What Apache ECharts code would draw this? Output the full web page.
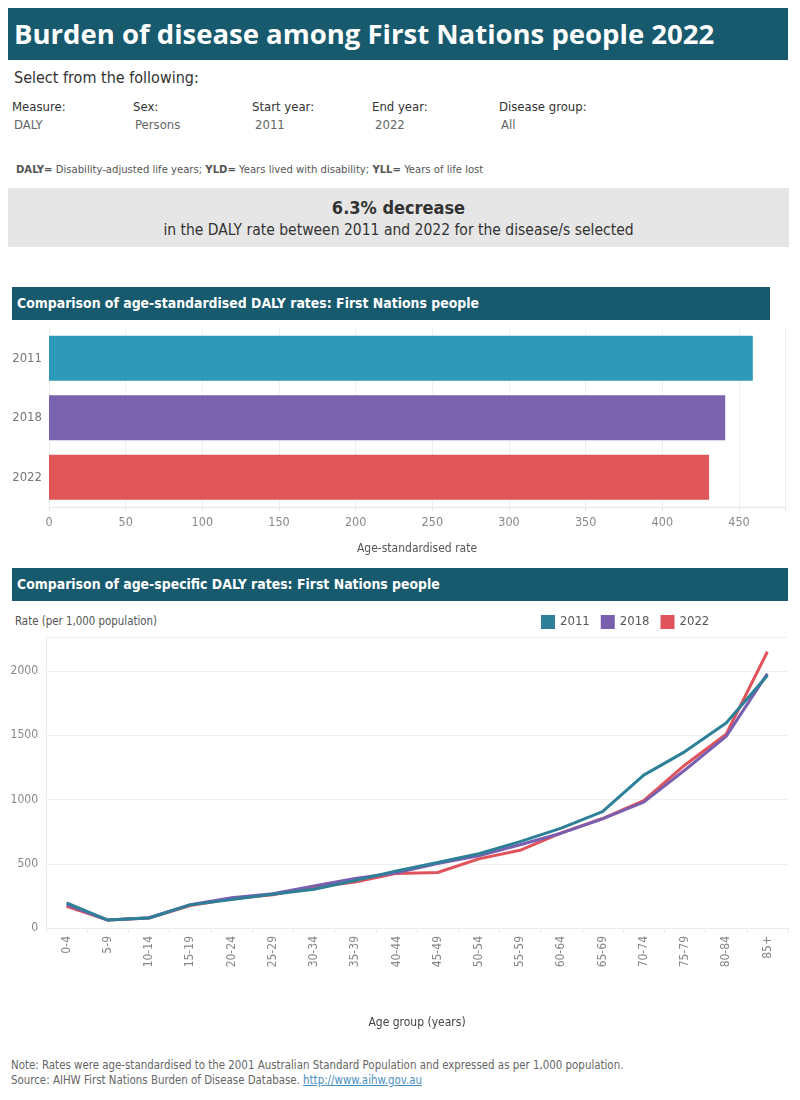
<!DOCTYPE html>
<html>
<head>
<meta charset="utf-8">
<script src="https://cdn.jsdelivr.net/npm/echarts@6/dist/echarts.min.js"></script>
<style>
  body { margin: 0; width: 800px; height: 1100px; position: relative; background: #fff;
    font-family: "DejaVu Sans Condensed", "Liberation Sans Narrow", Roboto, sans-serif; color: #333; }
  .abs { position: absolute; white-space: nowrap; }
  .banner { position: absolute; background: #175a6e; color: #fff; font-weight: bold; }
  .main-title { left: 8px; top: 8px; width: 780px; height: 52px; font-family: "Open Sans", sans-serif;
    font-size: 27.5px; line-height: 52px; padding-left: 6px; box-sizing: border-box; }
  .sec-title { left: 12px; width: 758px; height: 33px; font-size: 13.9px; line-height: 33px; padding-left: 5px; box-sizing: border-box; }
  .flabel { font-size: 13px; color: #333; }
  .fvalue { font-size: 13px; color: #666; }
  .kpi { position: absolute; left: 8px; top: 188px; width: 781px; height: 59px; background: #e6e6e6; text-align: center; }
  .foot { font-size: 11.4px; color: #666; }
  #bar { position: absolute; left: 0; top: 320px; width: 800px; height: 240px; }
  #line { position: absolute; left: 0; top: 600px; width: 800px; height: 440px; }
</style>
</head>
<body>
<div class="banner main-title">Burden of disease among First Nations people 2022</div>
<div class="abs" style="left:14px;top:68px;font-size:16px;color:#333;">Select from the following:</div>

<div class="abs flabel" style="left:12px;top:99px;">Measure:</div>
<div class="abs flabel" style="left:133px;top:99px;">Sex:</div>
<div class="abs flabel" style="left:252px;top:99px;">Start year:</div>
<div class="abs flabel" style="left:372px;top:99px;">End year:</div>
<div class="abs flabel" style="left:499px;top:99px;">Disease group:</div>
<div class="abs fvalue" style="left:14px;top:117px;">DALY</div>
<div class="abs fvalue" style="left:135px;top:117px;">Persons</div>
<div class="abs fvalue" style="left:255px;top:117px;">2011</div>
<div class="abs fvalue" style="left:375px;top:117px;">2022</div>
<div class="abs fvalue" style="left:501px;top:117px;">All</div>

<div class="abs" style="left:16px;top:163px;font-size:11.2px;color:#555;"><b>DALY=</b> Disability-adjusted life years; <b>YLD=</b> Years lived with disability; <b>YLL=</b> Years of life lost</div>

<div class="kpi">
  <div style="position:absolute;left:0;right:0;top:9px;font-size:18px;font-weight:bold;color:#333;">6.3% decrease</div>
  <div style="position:absolute;left:0;right:0;top:33px;font-size:15.5px;color:#333;">in the DALY rate between 2011 and 2022 for the disease/s selected</div>
</div>

<div class="banner sec-title" style="top:287px;">Comparison of age-standardised DALY rates: First Nations people</div>
<div id="bar"></div>

<div class="banner sec-title" style="top:568px;width:776px;">Comparison of age-specific DALY rates: First Nations people</div>
<div class="abs" style="left:15px;top:614px;font-size:11.4px;color:#555;">Rate (per 1,000 population)</div>
<div id="line"></div>

<div class="abs foot" style="left:11px;top:1058px;">Note: Rates were age-standardised to the 2001 Australian Standard Population and expressed as per 1,000 population.</div>
<div class="abs foot" style="left:11px;top:1073px;">Source: AIHW First Nations Burden of Disease Database. <span style="color:#4a8fc0;text-decoration:underline;">http://www.aihw.gov.au</span></div>

<script>
// age-standardised rates
const years = ["2011", "2018", "2022"];
const asRates = [459, 441, 430.5];
const barColors = ["#2e99b8", "#7a63ae", "#e05659"];

// age-specific rates (per 1,000)
const ageGroups = ["0-4", "5-9", "10-14", "15-19", "20-24", "25-29", "30-34", "35-39", "40-44",
  "45-49", "50-54", "55-59", "60-64", "65-69", "70-74", "75-79", "80-84", "85+"];
const rate2011 = [195, 62, 78, 180, 222, 262, 302, 370, 443, 510, 578, 672, 777, 905, 1190, 1373, 1595, 1965];
const rate2018 = [183, 62, 80, 182, 235, 266, 328, 385, 430, 502, 562, 648, 738, 850, 980, 1230, 1492, 1980];
const rate2022 = [168, 62, 78, 175, 228, 258, 318, 358, 425, 432, 538, 605, 740, 852, 992, 1269, 1509, 2150];
const lineColors = ["#2d8097", "#7a5fb0", "#e0535a"];

const font = '"DejaVu Sans Condensed", "Liberation Sans Narrow", Roboto, sans-serif';

const barChart = echarts.init(document.getElementById("bar"));
barChart.setOption({
  animation: false,
  textStyle: { fontFamily: font },
  grid: { left: 49, right: 15, top: 8.5, height: 184 },
  xAxis: {
    type: "value",
    min: 0,
    max: 480,
    interval: 50,
    name: "Age-standardised rate",
    nameLocation: "middle",
    nameGap: 36,
    nameTextStyle: { color: "#555", fontSize: 12, fontFamily: font },
    axisLine: { show: true, lineStyle: { color: "#e6e6e6" } },
    axisTick: { show: true, length: 4, lineStyle: { color: "#e6e6e6" } },
    axisLabel: {
      color: "#888", fontSize: 12.5, margin: 9,
      formatter: v => (v % 50 === 0 ? String(v) : "")
    },
    splitLine: { show: true, lineStyle: { color: "#f0f0f0" } }
  },
  yAxis: {
    type: "category",
    inverse: true,
    data: years,
    axisLine: { show: false },
    axisTick: { show: false },
    axisLabel: { color: "#777", fontSize: 13, margin: 7 }
  },
  series: [{
    type: "bar",
    barWidth: 45,
    data: asRates.map((v, i) => ({ value: v, itemStyle: { color: barColors[i] } }))
  }]
});

const lineChart = echarts.init(document.getElementById("line"));
lineChart.setOption({
  animation: false,
  textStyle: { fontFamily: font },
  legend: {
    left: 536,
    top: 10,
    itemWidth: 14,
    itemHeight: 14,
    itemGap: 11,
    icon: "rect",
    textStyle: { color: "#555", fontSize: 13, fontFamily: font },
    data: years
  },
  grid: { left: 46, right: 12, top: 37, bottom: 112 },
  xAxis: {
    type: "category",
    data: ageGroups,
    boundaryGap: true,
    name: "Age group (years)",
    nameLocation: "middle",
    nameGap: 89,
    nameTextStyle: { color: "#444", fontSize: 12, fontFamily: font },
    axisLine: { lineStyle: { color: "#ececec" } },
    axisTick: { show: true, length: 5, lineStyle: { color: "#ececec" } },
    axisLabel: { rotate: 90, color: "#888", fontSize: 12, margin: 8, interval: 0 }
  },
  yAxis: {
    type: "value",
    min: 0,
    max: 2265,
    interval: 500,
    axisLine: { show: true, lineStyle: { color: "#ececec" } },
    axisTick: { show: false },
    axisLabel: {
      color: "#888", fontSize: 12, margin: 8,
      formatter: v => (v % 500 === 0 ? String(v) : "")
    },
    splitLine: { lineStyle: { color: "#f0f0f0" } }
  },
  series: [
    { name: "2011", type: "line", data: rate2011, z: 4, color: lineColors[0], showSymbol: false, lineStyle: { width: 3 } },
    { name: "2018", type: "line", data: rate2018, z: 3, color: lineColors[1], showSymbol: false, lineStyle: { width: 3 } },
    { name: "2022", type: "line", data: rate2022, z: 2, color: lineColors[2], showSymbol: false, lineStyle: { width: 3 } }
  ]
});
</script>
</body>
</html>
